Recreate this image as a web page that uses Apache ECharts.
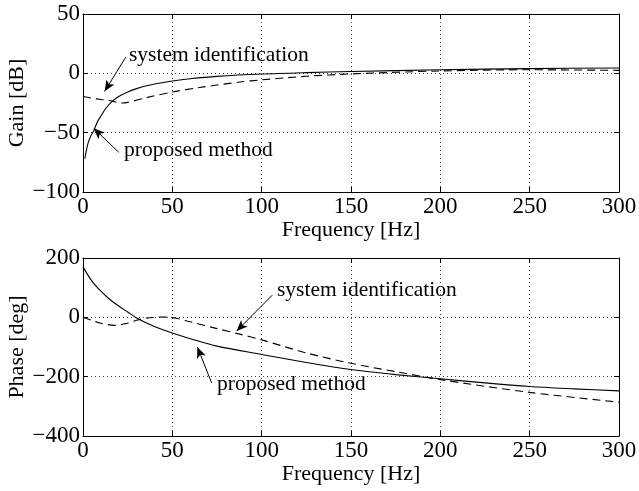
<!DOCTYPE html>
<html>
<head>
<meta charset="utf-8">
<script src="https://cdn.jsdelivr.net/npm/echarts@6/dist/echarts.min.js"></script>
<style>
  html, body { margin: 0; padding: 0; background: #fff; }
  #chart { width: 639px; height: 491px; }
</style>
</head>
<body>
<div id="chart"></div>
<script>
// gain plot
const gainPropX = [1, 2, 3, 4, 5, 6, 8, 10, 13, 16.8, 20, 25, 30, 35, 40, 50, 60, 75, 100, 125, 150, 200, 250, 300]
const gainPropY = [-72, -64, -58, -54, -51, -48.5, -41, -36, -29, -23, -19.5, -15.7, -12.9, -10.7, -9, -6.5, -4.6, -2.6, -0.6, 0.6, 1.5, 3, 4, 4.5]
const gainSysX = [0, 5.4, 10, 16.8, 20.5, 25, 35.5, 50, 65, 88, 100, 125, 150, 200, 250, 300]
const gainSysY = [-19.5, -21, -22, -23.5, -25, -24.5, -20.5, -15.7, -12, -7.3, -5.5, -2.5, -0.5, 2, 3, 2.5]
// phase plot
const phasePropX = [0, 5, 10, 15, 20, 25, 30, 40, 50, 60, 75, 100, 125, 150, 175, 200, 225, 250, 275, 300]
const phasePropY = [170, 122, 88, 60, 38, 18, -2, -31, -53, -72, -97, -125, -152, -176, -193, -207, -221, -233, -241, -248]
const phaseSysX = [0, 5, 10, 18, 25, 30, 35, 45, 52, 60, 75, 86, 100, 125, 150, 175, 200, 250, 300]
const phaseSysY = [0, -10, -20, -27, -20, -10, -3, 1, -3, -15, -38, -54, -76, -120, -155, -183, -210, -253, -286]

const font = 'Liberation Serif'
const zip = (xs, ys) => xs.map((x, i) => [x, ys[i]])
const minus = v => String(v).replace('-', '\u2212')
const dotted = { show: true, lineStyle: { color: '#444', type: [1, 3], width: 1 } }
const tick = { inside: true, length: 5, lineStyle: { color: '#000' } }
const black = { show: true, onZero: false, lineStyle: { color: '#000', width: 1 } }

function xAxis(idx) {
  return {
    type: 'value', gridIndex: idx, min: 0, max: 300, interval: 50,
    name: 'Frequency [Hz]', nameLocation: 'middle', nameGap: 27, nameMoveOverlap: false,
    nameTextStyle: { fontFamily: font, fontSize: 22, color: '#000' },
    axisLine: black, axisTick: tick,
    axisLabel: { fontFamily: font, fontSize: 23, color: '#000', margin: 3 },
    splitLine: dotted
  }
}
function xTop(idx) {
  return {
    type: 'value', gridIndex: idx, position: 'top', min: 0, max: 300, interval: 50,
    axisLine: black, axisTick: tick, axisLabel: { show: false }, splitLine: { show: false }
  }
}
function yAxis(idx, min, max, interval, name) {
  return {
    type: 'value', gridIndex: idx, min: min, max: max, interval: interval,
    name: name, nameLocation: 'middle', nameGap: 55, nameMoveOverlap: false,
    nameTextStyle: { fontFamily: font, fontSize: 22, color: '#000' },
    axisLine: black, axisTick: tick,
    axisLabel: { fontFamily: font, fontSize: 23, color: '#000', margin: 3, formatter: minus },
    splitLine: dotted
  }
}
function yRight(idx, min, max, interval) {
  return {
    type: 'value', gridIndex: idx, position: 'right', min: min, max: max, interval: interval,
    axisLine: black, axisTick: tick, axisLabel: { show: false }, splitLine: { show: false }
  }
}
function arrow(idx, from, to) {
  return {
    type: 'line', xAxisIndex: idx, yAxisIndex: idx, data: [], silent: true,
    markLine: {
      silent: true, symbol: ['none', 'arrow'], symbolSize: [7, 11],
      lineStyle: { color: '#000', width: 1, type: 'solid' }, label: { show: false },
      data: [[{ coord: from }, { coord: to }]]
    }
  }
}
function line(idx, xs, ys, dashed) {
  return {
    type: 'line', xAxisIndex: idx, yAxisIndex: idx, data: zip(xs, ys),
    smooth: 0.3, showSymbol: false, silent: true,
    lineStyle: { color: '#000', width: 1.1, type: dashed ? [8, 5] : 'solid' }
  }
}
function annot(x, y, text) {
  return { type: 'text', left: x, top: y, style: { text: text, font: '21.5px "Liberation Serif"', fill: '#000' } }
}

const chart = echarts.init(document.getElementById('chart'))
chart.setOption({
  animation: false,
  backgroundColor: '#fff',
  grid: [
    { left: 83, right: 20, top: 14, height: 178, outerBoundsMode: 'none', containLabel: false },
    { left: 83, right: 20, top: 258, height: 178, outerBoundsMode: 'none', containLabel: false }
  ],
  xAxis: [xAxis(0), xAxis(1), xTop(0), xTop(1)],
  yAxis: [
    yAxis(0, -100, 50, 50, 'Gain [dB]'), yAxis(1, -400, 200, 200, 'Phase [deg]'),
    yRight(0, -100, 50, 50), yRight(1, -400, 200, 200)
  ],
  series: [
    line(0, gainPropX, gainPropY, false),
    line(0, gainSysX, gainSysY, true),
    line(1, phasePropX, phasePropY, false),
    line(1, phaseSysX, phaseSysY, true),
    arrow(0, [23.9, 13.5], [12.1, -15.2]),
    arrow(0, [20, -66.5], [6, -46.3]),
    arrow(1, [106, 75], [86, -46]),
    arrow(1, [72, -221], [64, -100])
  ],
  graphic: [
    annot(129, 44, 'system identification'),
    annot(124, 139, 'proposed method'),
    annot(277, 279, 'system identification'),
    annot(217, 373, 'proposed method')
  ]
})
</script>
</body>
</html>
